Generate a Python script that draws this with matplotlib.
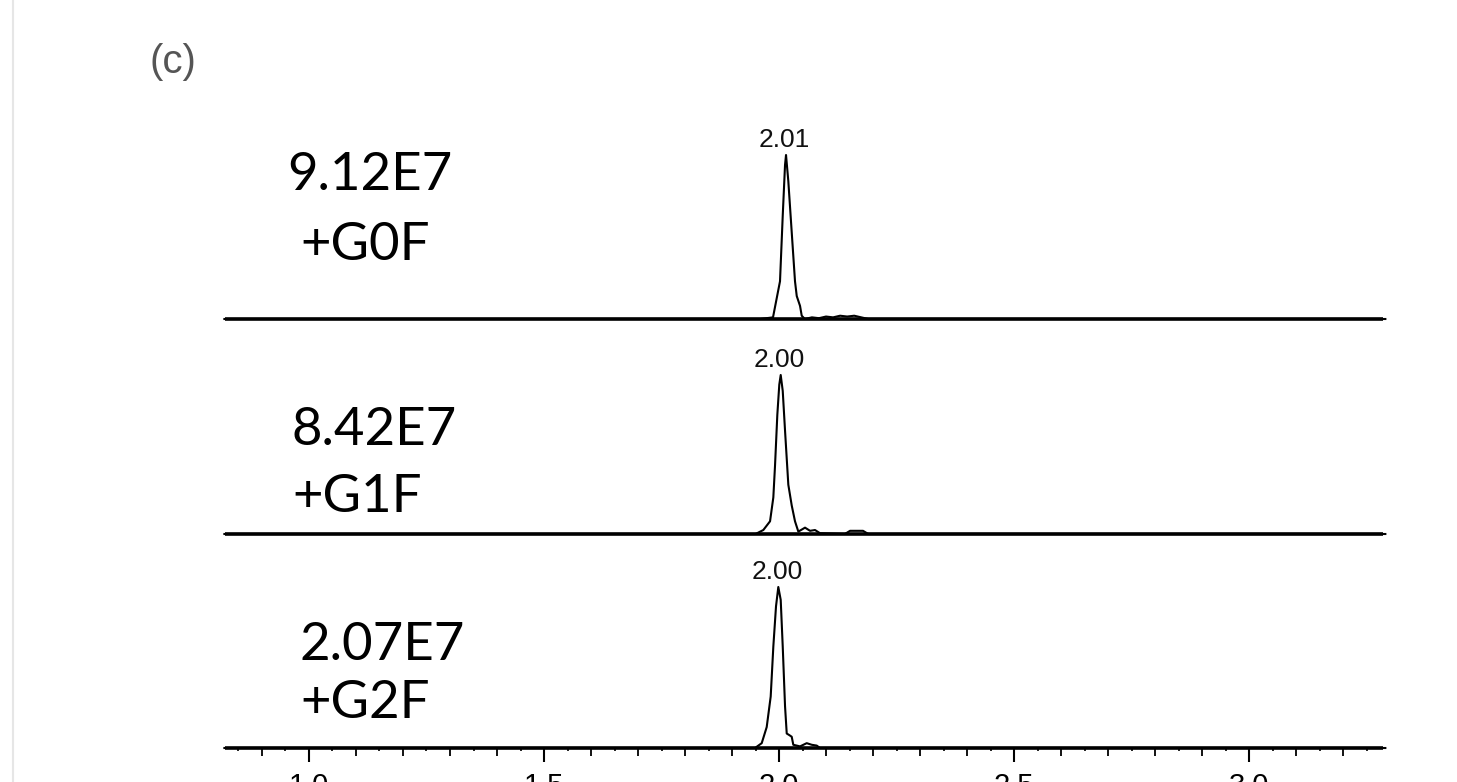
import matplotlib
matplotlib.use("Agg")
import matplotlib.pyplot as plt
from matplotlib.lines import Line2D
from matplotlib.ticker import MultipleLocator, FixedLocator, NullFormatter
import numpy as np

# ---- data (retention time in min, relative intensity %) ----
t_g0f = [0.82, 1.960, 1.9872, 2.0021, 2.0079, 2.0128, 2.0149, 2.0198, 2.0270,
         2.0340, 2.0377, 2.0447, 2.0483, 2.055, 2.070, 2.085, 2.100, 2.115,
         2.130, 2.145, 2.160, 2.175, 2.19, 3.29]
i_g0f = [0, 0, 1, 23, 63, 94, 100, 84, 53, 23, 14, 8, 2, 0, 1, 0.5, 1.5, 1,
         2, 1.5, 2, 1, 0, 0]

t_g1f = [0.82, 1.950, 1.9666, 1.9809, 1.9879, 1.9915, 1.9964, 2.0006, 2.0036,
         2.0079, 2.0128, 2.0198, 2.0270, 2.0340, 2.0411, 2.0553, 2.0660, 2.0766,
         2.0872, 2.140, 2.1511, 2.166, 2.1787, 2.19, 3.29]
i_g1f = [0, 0, 2.5, 8, 23, 43, 75, 94, 100, 90, 65, 31, 18, 8, 1.5, 4, 2,
         2.5, 0.5, 0, 2, 2, 2, 0, 0]

t_g2f = [0.82, 1.9489, 1.9632, 1.9738, 1.9823, 1.9879, 1.9936, 1.9985, 2.0036,
         2.0079, 2.0128, 2.0164, 2.0219, 2.0270, 2.0304, 2.0447, 2.0589, 2.0696,
         2.0802, 2.0872, 3.29]
i_g2f = [0, 0, 3, 13, 32, 63, 88, 100, 92, 63, 26, 9, 8, 7, 2, 1, 3, 2, 1.5,
         0, 0]

intensities = ["9.12E7", "8.42E7", "2.07E7"]
glycans = ["+G0F", "+G1F", "+G2F"]
peak_labels = ["2.01", "2.00", "2.00"]
x_ticks = [1.0, 1.5, 2.0, 2.5, 3.0]
x_tick_labels = ["1.0", "1.5", "2.0", "2.5", "3.0"]

traces = [(t_g0f, i_g0f), (t_g1f, i_g1f), (t_g2f, i_g2f)]

# ---- layout (pixels) ----
W, H = 1457, 782
fig = plt.figure(figsize=(W / 100, H / 100), dpi=100)
fig.patch.set_facecolor("white")

left_px, right_px = 225, 1383
baselines = [319, 534, 748]
tops = [155, 375, 587]
xlim = (0.8213, 3.285)

# name/intensity text positions (left x px, baseline y px)
int_pos = [(287, 190), (292, 445), (300, 660)]
gly_pos = [(300, 260), (292, 512), (300, 718)]

# faint left border
fig.add_artist(Line2D([13 / W, 13 / W], [0, 1], color="#e6e6e6", lw=1.5,
                      transform=fig.transFigure))

fig.text(149 / W, 1 - 62 / H, "(c)", fontsize=29, color="#555555",
         family="Liberation Sans", va="center", ha="left")

for k, ((t, y), base, top) in enumerate(zip(traces, baselines, tops)):
    ax = fig.add_axes([left_px / W, 1 - base / H, (right_px - left_px) / W,
                       (base - top) / H])
    ax.set_facecolor("none")
    ax.plot(t, y, color="black", lw=1.5, clip_on=False, solid_joinstyle="round")
    ax.set_xlim(*xlim)
    ax.set_ylim(0, 100)
    for s in ["top", "right", "left"]:
        ax.spines[s].set_visible(False)
    ax.spines["bottom"].set_linewidth(2.6)
    ax.spines["bottom"].set_capstyle("butt")
    ax.set_yticks([])
    # peak label
    imax = int(np.argmax(y))
    ax.annotate(peak_labels[k], xy=(t[imax], y[imax]), xytext=(-1, 6),
                textcoords="offset points", ha="center", va="baseline",
                fontsize=19, family="Liberation Sans", color="#111111",
                annotation_clip=False)
    if k < 2:
        ax.set_xticks([])
    else:
        ax.xaxis.set_major_locator(FixedLocator(x_ticks))
        ax.set_xticklabels(x_tick_labels, fontfamily="Liberation Sans")
        ax.xaxis.set_minor_locator(MultipleLocator(0.1))
        ax.xaxis.set_minor_formatter(NullFormatter())
        ax.tick_params(axis="x", which="major", length=10, width=1.5,
                       direction="out", pad=7, labelsize=21)
        ax.tick_params(axis="x", which="minor", length=5.5, width=1.3,
                       direction="out")
        sec = ax.secondary_xaxis("bottom")
        sec.spines["bottom"].set_visible(False)
        sec.set_xticks(list(np.arange(0.85, 3.3, 0.1)))
        sec.set_xticklabels([])
        sec.tick_params(axis="x", length=2.5, width=1.2, direction="out")

    fig.text(int_pos[k][0] / W, 1 - int_pos[k][1] / H, intensities[k],
             fontsize=38, family="Lato", color="black", ha="left", va="baseline")
    fig.text(gly_pos[k][0] / W, 1 - gly_pos[k][1] / H, glycans[k],
             fontsize=38, family="Lato", color="black", ha="left", va="baseline")

fig.savefig("out.png", dpi=100, facecolor="white")
